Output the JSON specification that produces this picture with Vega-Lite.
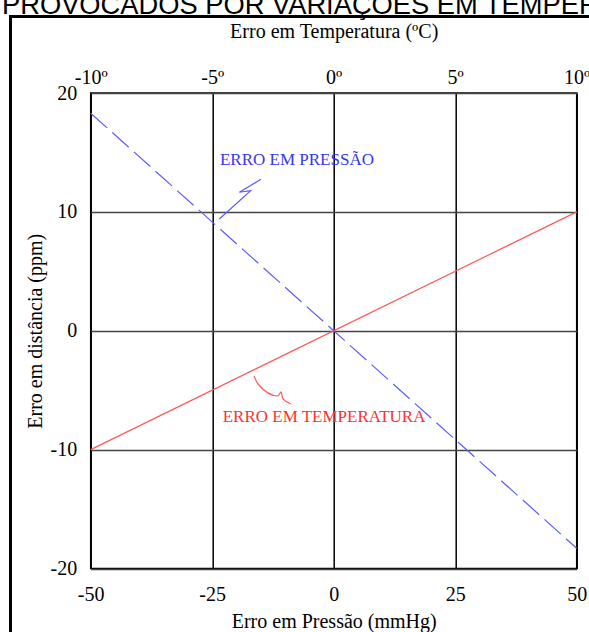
{
  "$schema": "https://vega.github.io/schema/vega-lite/v6.json",
  "width": 486,
  "height": 475.5,
  "autosize": "none",
  "padding": {"left": 90.7, "top": 93, "right": 12.3, "bottom": 63.5},
  "background": "white",
  "config": {
    "view": {"stroke": "black", "strokeWidth": 1.5},
    "font": "Liberation Serif"
  },
  "datasets": {
    "red": [{"x": -50, "y": -10}, {"x": 50, "y": 10}],
    "blue": [{"x": -50, "y": 18.3}, {"x": 50, "y": -18.3}],
    "blueLeader": [
      {"i": 1, "x": -23.54, "y": 9.4},
      {"i": 2, "x": -17.08, "y": 11.78},
      {"i": 3, "x": -19.42, "y": 11.65},
      {"i": 4, "x": -14.96, "y": 12.74}
    ],
    "redLeader": [
      {"i": 1, "x": -16.4, "y": -3.81},
      {"i": 2, "x": -15.58, "y": -4.48},
      {"i": 3, "x": -11.46, "y": -5.49},
      {"i": 4, "x": -10.84, "y": -5.15},
      {"i": 5, "x": -10.43, "y": -5.74},
      {"i": 6, "x": -8.79, "y": -6.16}
    ],
    "blueLabel": [{"x": -23.4, "y": 13.94, "label": "ERRO EM PRESSÃO"}],
    "redLabel": [{"x": -22.84, "y": -7.68, "label": "ERRO EM TEMPERATURA"}],
    "header": [{"x": -68.25, "y": 26.64, "label": "PROVOCADOS POR VARIAÇÕES EM TEMPERATURA E PRESSÃO"}],
    "frame": [{"x": -66.5, "x2": 80, "y": 26.44, "y2": -30}]
  },
  "encoding": {
    "x": {"field": "x", "type": "quantitative", "scale": {"domain": [-50, 50], "nice": false, "zero": false}, "axis": null},
    "y": {
      "field": "y", "type": "quantitative",
      "scale": {"domain": [-20, 20], "nice": false, "zero": false},
      "axis": {
        "values": [-20, -10, 0, 10, 20],
        "labelExpr": "'' + datum.value",
        "title": "Erro em distância (ppm)",
        "ticks": false, "tickSize": 0, "domain": false,
        "grid": true, "gridColor": "#444", "gridWidth": 1.5,
        "labelFont": "Liberation Serif", "labelFontSize": 20, "labelColor": "black", "labelPadding": 14,
        "labelFlush": false, "labelOverlap": false,
        "titleFont": "Liberation Serif", "titleFontSize": 20, "titleFontWeight": "normal", "titleColor": "black", "titlePadding": 5
      }
    }
  },
  "layer": [
    {
      "data": {"name": "red"},
      "mark": {"type": "line", "color": "#ff5a5a", "strokeWidth": 1.2},
      "encoding": {
        "x": {
          "field": "x", "type": "quantitative",
          "axis": {
            "orient": "bottom",
            "values": [-50, -25, 0, 25, 50],
            "labelExpr": "'' + datum.value",
            "title": "Erro em Pressão (mmHg)",
            "ticks": false, "tickSize": 0, "domain": false,
            "grid": true, "gridColor": "black", "gridWidth": 1.5,
            "labelFont": "Liberation Serif", "labelFontSize": 20, "labelColor": "black", "labelPadding": 16,
            "labelFlush": false, "labelOverlap": false,
            "titleFont": "Liberation Serif", "titleFontSize": 20, "titleFontWeight": "normal", "titleColor": "black", "titlePadding": 7
          }
        }
      }
    },
    {
      "data": {"name": "blue"},
      "mark": {"type": "line", "color": "#5c5cff", "strokeWidth": 1.2, "strokeDash": [22, 7]},
      "encoding": {
        "x": {
          "field": "x", "type": "quantitative",
          "axis": {
            "orient": "top",
            "values": [-50, -25, 0, 25, 50],
            "labelExpr": "(datum.value / 5) + 'º'",
            "title": "Erro em Temperatura (ºC)",
            "ticks": false, "tickSize": 0, "domain": false, "grid": false,
            "labelFont": "Liberation Serif", "labelFontSize": 20, "labelColor": "black", "labelPadding": 6,
            "labelFlush": false, "labelOverlap": false,
            "titleFont": "Liberation Serif", "titleFontSize": 20, "titleFontWeight": "normal", "titleColor": "black", "titlePadding": 26
          }
        }
      }
    },
    {
      "data": {"name": "blueLeader"},
      "mark": {"type": "line", "color": "#5c5cff", "strokeWidth": 1.2},
      "encoding": {"order": {"field": "i", "type": "quantitative"}}
    },
    {
      "data": {"name": "redLeader"},
      "mark": {"type": "line", "color": "#ff5a5a", "strokeWidth": 1.2, "interpolate": "monotone"},
      "encoding": {"order": {"field": "i", "type": "quantitative"}}
    },
    {
      "data": {"name": "blueLabel"},
      "mark": {"type": "text", "align": "left", "baseline": "alphabetic", "font": "Liberation Serif", "fontSize": 17, "color": "#3535f5"},
      "encoding": {"text": {"field": "label"}}
    },
    {
      "data": {"name": "redLabel"},
      "mark": {"type": "text", "align": "left", "baseline": "alphabetic", "font": "Liberation Serif", "fontSize": 17, "color": "#ff3030"},
      "encoding": {"text": {"field": "label"}}
    },
    {
      "data": {"name": "header"},
      "mark": {"type": "text", "align": "left", "baseline": "alphabetic", "font": "Liberation Sans", "fontSize": 27.3, "color": "black"},
      "encoding": {"text": {"field": "label"}}
    },
    {
      "data": {"name": "frame"},
      "mark": {"type": "rect", "fill": null, "fillOpacity": 0, "stroke": "black", "strokeWidth": 3},
      "encoding": {
        "x2": {"field": "x2"},
        "y2": {"field": "y2"}
      }
    }
  ],
  "resolve": {"axis": {"x": "independent"}}
}
